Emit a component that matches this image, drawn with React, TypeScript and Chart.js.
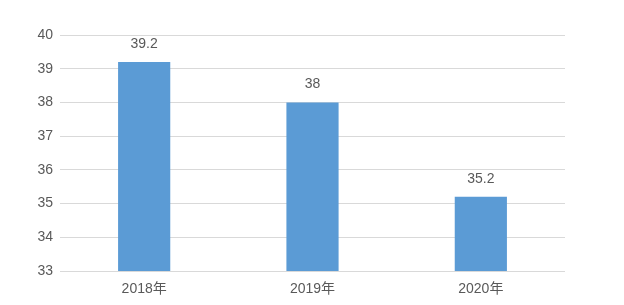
import React, { useEffect, useRef } from "react";
import { Chart, registerables } from "chart.js";

Chart.register(...registerables);

const categories = ["2018年", "2019年", "2020年"];
const values = [39.2, 38, 35.2];
const yMin = 33;
const yMax = 40;

const FONT = "'Liberation Sans', Arial, 'Noto Sans CJK SC', sans-serif";
const TEXT = "#595959";

const labelPlugin = {
  id: "valueLabels",
  afterDatasetsDraw(chart: any) {
    const ctx = chart.ctx;
    const meta = chart.getDatasetMeta(0);
    ctx.save();
    ctx.font = `14px ${FONT}`;
    ctx.fillStyle = TEXT;
    ctx.textAlign = "center";
    ctx.textBaseline = "middle";
    meta.data.forEach((bar: any, i: number) => {
      ctx.fillText(String(values[i]), bar.x, bar.y - 18);
    });
    ctx.restore();
  },
};

export default function App() {
  const ref = useRef<HTMLCanvasElement | null>(null);
  useEffect(() => {
    if (!ref.current) return;
    const chart = new Chart(ref.current, {
      type: "bar",
      data: {
        labels: categories,
        datasets: [
          {
            data: values,
            backgroundColor: "#5b9bd5",
            borderWidth: 0,
            barPercentage: 0.31,
            categoryPercentage: 1,
          },
        ],
      },
      options: {
        animation: false,
        responsive: false,
        maintainAspectRatio: false,
        layout: { padding: { left: 0, right: 59, top: 35, bottom: 0 } },
        plugins: { legend: { display: false }, tooltip: { enabled: false } },
        scales: {
          x: {
            grid: { display: false, drawTicks: false },
            border: { display: false },
            ticks: { color: TEXT, font: { size: 14, family: FONT }, padding: 10 },
            afterFit: (s: any) => {
              s.height = 34;
            },
          },
          y: {
            min: yMin,
            max: yMax,
            grid: { color: "#d9d9d9", drawTicks: false, lineWidth: 1 },
            border: { display: false },
            ticks: { stepSize: 1, color: TEXT, font: { size: 14, family: FONT }, padding: 7 },
            afterFit: (s: any) => {
              s.width = 60;
            },
          },
        },
      },
      plugins: [labelPlugin],
    });
    return () => chart.destroy();
  }, []);
  return (
    <div style={{ position: "fixed", left: 0, top: 0, width: 624, height: 305, background: "#fff" }}>
      <canvas ref={ref} width={624} height={305} />
    </div>
  );
}
